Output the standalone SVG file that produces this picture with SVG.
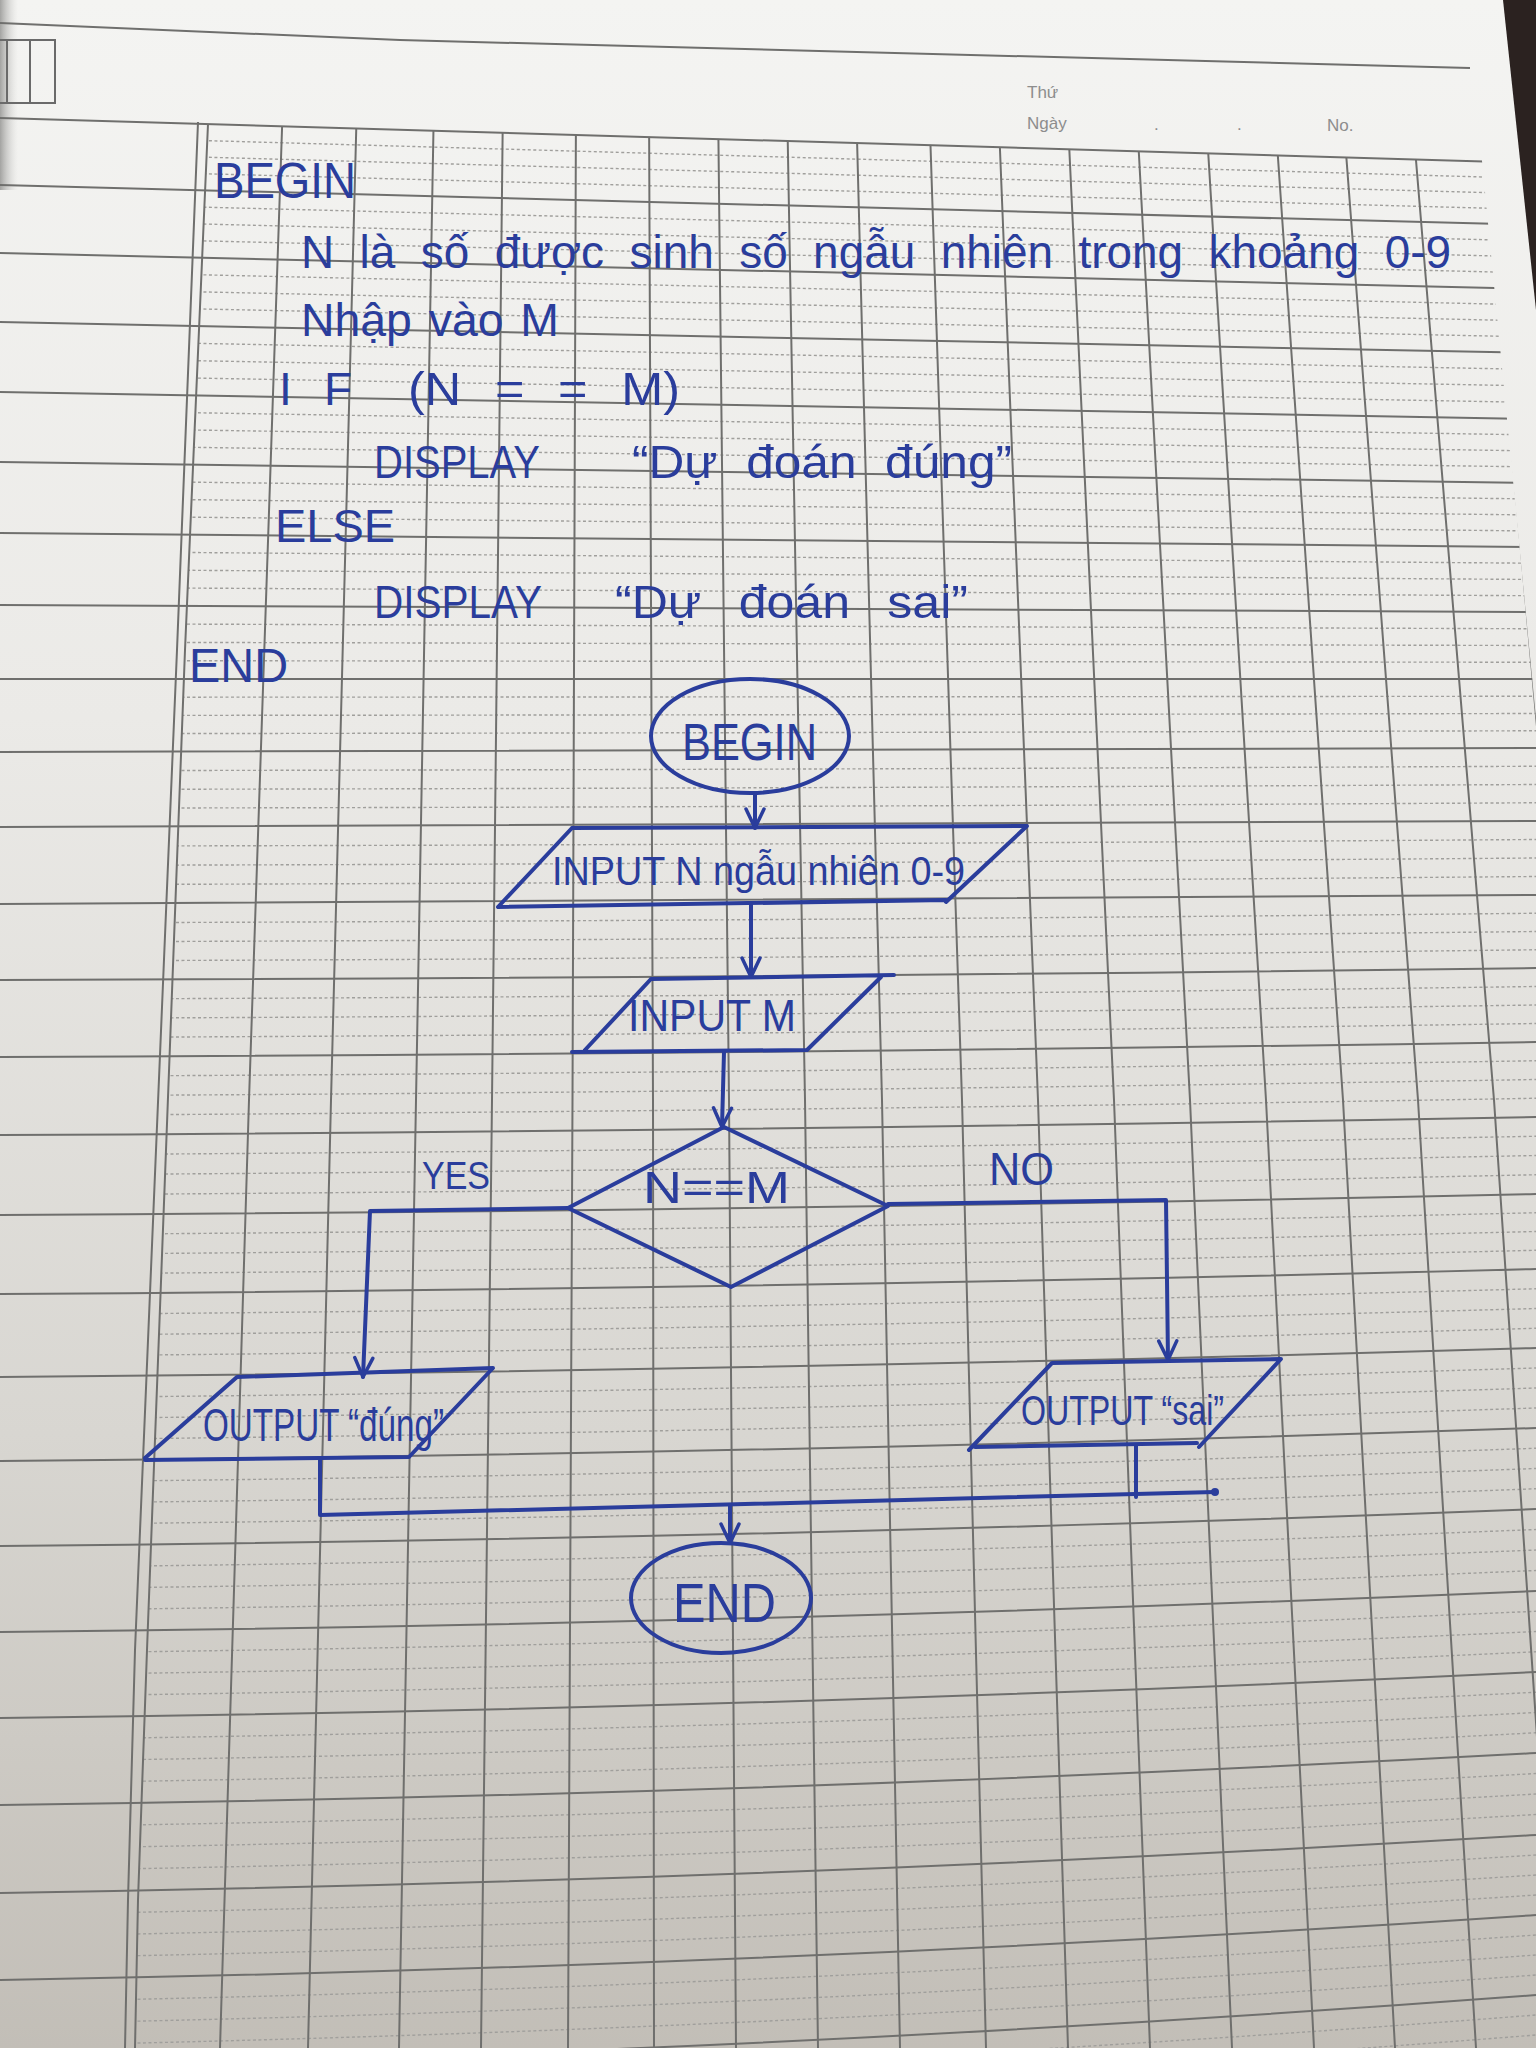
<svg xmlns="http://www.w3.org/2000/svg" width="1536" height="2048" viewBox="0 0 1536 2048">
<defs>
<style>
.ink{fill:none;stroke:#2a3d9c;stroke-width:4;stroke-linecap:round;stroke-linejoin:round}
.hw{font-family:"Liberation Sans","DejaVu Sans",Arial,sans-serif;fill:#2a3d9c}
.maj{fill:none;stroke:#6f6f6d;stroke-width:2}
.min{fill:none;stroke:#a09f9c;stroke-width:1.4;stroke-dasharray:3 2.5}
.hdr{font-family:"Liberation Sans",Arial,sans-serif;font-size:17px;fill:#8d8d8d}
</style>
<linearGradient id="paperGrad" x1="0" y1="0" x2="0" y2="1">
<stop offset="0" stop-color="#f4f4f2"/>
<stop offset="0.35" stop-color="#ebeae7"/>
<stop offset="0.7" stop-color="#d8d6d1"/>
<stop offset="1" stop-color="#c2beb7"/>
</linearGradient>
<linearGradient id="sideShade" x1="0" y1="0" x2="1" y2="0">
<stop offset="0" stop-color="#8f8f8d" stop-opacity="0.8"/>
<stop offset="1" stop-color="#d0d0ce" stop-opacity="0"/>
</linearGradient>
<clipPath id="majClip"><polygon points="0,0 1482,0 1482,161 1573,1100 1642,2048 0,2048"/></clipPath>
<clipPath id="gridClip"><polygon points="208,124 1482,161 1573,1100 1642,2048 135,2048 138,1900 147,1650 185,650"/></clipPath>
<marker id="arr" viewBox="0 0 24 24" refX="22" refY="12" markerWidth="24" markerHeight="24" markerUnits="userSpaceOnUse" orient="auto">
<path d="M3,3 L22,12 L3,21" fill="none" stroke="#2a3d9c" stroke-width="3.5" stroke-linecap="round" stroke-linejoin="round"/>
</marker>
</defs>

<g id="paper">
<rect x="0" y="0" width="1536" height="2048" fill="url(#paperGrad)"/>
<rect x="0" y="0" width="18" height="190" fill="url(#sideShade)"/>
<polygon points="1503,0 1536,0 1536,310" fill="#2b2220"/>
</g>

<g id="grid">
<path class="maj" d="M0 23 L400 40 L1470 68" stroke-width="2.5"/>
<path d="M-2 40 H55 V103 H-2 M7 40 V103 M30 40 V103" fill="none" stroke="#6a6a6a" stroke-width="2"/>
<g clip-path="url(#gridClip)">
<path class="min" d="M0 134.75 Q768 156.6 1536 178.5 M0 151.5 Q768 172.75 1536 194 M0 168.25 Q768 188.9 1536 209.5
M0 202 Q768 221.5 1536 241 M0 219 Q768 238 1536 257 M0 236 Q768 254.5 1536 273
M0 270.25 Q768 287.6 1536 305 M0 287.5 Q768 304.25 1536 321 M0 304.75 Q768 320.9 1536 337
M0 339.5 Q768 354.5 1536 369.5 M0 357 Q768 371.5 1536 386 M0 374.5 Q768 388.5 1536 402.5
M0 409.5 Q768 422.25 1536 435 M0 427 Q768 439 1536 451 M0 444.5 Q768 455.75 1536 467
M0 479.75 Q768 489.4 1536 499 M0 497.5 Q768 506.25 1536 515 M0 515.25 Q768 523.1 1536 531
M0 551 Q768 557.1 1536 563.25 M0 569 Q768 574.25 1536 579.5 M0 587 Q768 591.4 1536 595.75
M0 623.5 Q768 626.1 1536 628.75 M0 642 Q768 643.75 1536 645.5 M0 660.5 Q768 661.4 1536 662.25
M0 697.25 Q768 697 1536 696.25 M0 715.5 Q768 715 1536 713.5 M0 733.75 Q768 733 1536 730.75
M0 770.75 Q768 769.75 1536 766.25 M0 789.5 Q768 788.5 1536 784.5 M0 808.25 Q768 807.25 1536 802.75
M0 846.25 Q768 845 1536 839.5 M0 865.5 Q768 864 1536 858 M0 884.75 Q768 883 1536 876.5
M0 923 Q768 921 1536 913.25 M0 942 Q768 940 1536 931.5 M0 961 Q768 959 1536 949.75
M0 999.25 Q768 997 1536 986.5 M0 1018.5 Q768 1016 1536 1005 M0 1037.75 Q768 1035 1536 1023.5
M0 1076.5 Q768 1073.25 1536 1060.75 M0 1096 Q768 1092.5 1536 1079.5 M0 1115.5 Q768 1111.75 1536 1098.25
M0 1155 Q768 1151 1536 1136.25 M0 1175 Q768 1171 1536 1155.5 M0 1195 Q768 1191 1536 1174.75
M0 1234.75 Q768 1230.5 1536 1212.75 M0 1254.5 Q768 1250 1536 1231.5 M0 1274.25 Q768 1269.5 1536 1250.25
M0 1314.75 Q768 1309.5 1536 1288.75 M0 1335.5 Q768 1330 1536 1308.5 M0 1356.25 Q768 1350.5 1536 1328.25
M0 1398 Q768 1391.75 1536 1368 M0 1419 Q768 1412.5 1536 1388 M0 1440 Q768 1433.25 1536 1408
M0 1482.25 Q768 1475.25 1536 1448.25 M0 1503.5 Q768 1496.5 1536 1468.5 M0 1524.75 Q768 1517.75 1536 1488.75
M0 1567.5 Q768 1560.25 1536 1529.5 M0 1589 Q768 1581.5 1536 1550 M0 1610.5 Q768 1602.75 1536 1570.5
M0 1653.5 Q768 1645.25 1536 1611.25 M0 1675 Q768 1666.5 1536 1631.5 M0 1696.5 Q768 1687.75 1536 1651.75
M0 1739.75 Q768 1730.5 1536 1692.25 M0 1761.5 Q768 1752 1536 1712.5 M0 1783.25 Q768 1773.5 1536 1732.75
M0 1827 Q768 1816.5 1536 1773.5 M0 1849 Q768 1838 1536 1794 M0 1871 Q768 1859.5 1536 1814.5
M0 1914.75 Q768 1902.5 1536 1855 M0 1936.5 Q768 1924 1536 1875 M0 1958.25 Q768 1945.5 1536 1895
M0 2002 Q768 1988.5 1536 1935 M0 2024 Q768 2010 1536 1955 M0 2046 Q768 2031.5 1536 1975
M0 2090 Q768 2075 1536 2015 M0 2112 Q768 2096 1536 2035 M0 2135 Q768 2118 1536 2055"/>
<path class="maj" d="M283 100 L249 1100 L220 2048 M357 100 L331 1100 L308 2048 M434 100 L416 1100 L399 2048
M503 100 L492 1100 L481 2048 M576 100 L572.5 1100 L568 2048 M649 100 L653 1100 L654 2048
M718 100 L729 1100 L736 2048 M787 100 L805 1100 L818 2048 M856 100 L882 1100 L900 2048
M929 100 L962 1100 L986 2048 M998 100 L1038 1100 L1068 2048 M1067 100 L1114 1100 L1150 2048
M1136 100 L1190 1100 L1232 2048 M1205 100 L1266 1100 L1314 2048 M1274 100 L1343 1100 L1395 2048
M1342 100 L1418 1100 L1476 2048 M1411 100 L1494 1100 L1558 2048 M1480 100 L1571 1100 L1640 2048"/>
</g>
<g clip-path="url(#majClip)">
<path class="maj" d="M0 118 L1536 163 M0 185 L1536 225 M0 253 L1536 289 M0 322 L1536 353 M0 392 L1536 419
M0 462 L1536 483 M0 533 L1536 547 M0 605 L1536 612 M0 679 L1536 679
M0 752 Q768 751 1536 748 M0 827 Q768 826 1536 821 M0 904 Q768 902 1536 895 M0 980 Q768 978 1536 968
M0 1057 Q768 1054 1536 1042 M0 1135 Q768 1131 1536 1117 M0 1215 Q768 1211 1536 1194
M0 1294 Q768 1289 1536 1269 M0 1377 Q768 1371 1536 1348 M0 1461 Q768 1454 1536 1428
M0 1546 Q768 1539 1536 1509 M0 1632 Q768 1624 1536 1591 M0 1718 Q768 1709 1536 1672
M0 1805 Q768 1795 1536 1753 M0 1893 Q768 1881 1536 1835 M0 1980 Q768 1967 1536 1915
M0 2068 Q768 2053 1536 1995"/>
</g>
<path class="maj" d="M198 122 L177 650 L135 1650 L128 1900 L125 2048 M208 124 L185 650 L147 1650 L138 1900 L135 2048"/>
</g>

<g id="header-text">
<text class="hdr" x="1027" y="98">Thứ</text>
<text class="hdr" x="1027" y="129">Ngày</text>
<text class="hdr" x="1154" y="130">.</text>
<text class="hdr" x="1237" y="130">.</text>
<text class="hdr" x="1327" y="131">No.</text>
</g>

<g id="pseudocode">
<text class="hw" x="214" y="198" font-size="50" textLength="142" lengthAdjust="spacingAndGlyphs">BEGIN</text>
<text class="hw" x="301" y="268" font-size="47" word-spacing="13" textLength="1150" lengthAdjust="spacingAndGlyphs">N là số được sinh số ngẫu nhiên trong khoảng 0-9</text>
<text class="hw" x="301" y="336" font-size="47" word-spacing="4" textLength="258" lengthAdjust="spacingAndGlyphs">Nhập vào M</text>
<text class="hw" x="279" y="405" font-size="46" textLength="73" lengthAdjust="spacing">IF</text>
<text class="hw" x="408" y="405" font-size="46" word-spacing="18" textLength="272" lengthAdjust="spacingAndGlyphs">(N = = M)</text>
<text class="hw" x="374" y="478" font-size="46" textLength="166" lengthAdjust="spacingAndGlyphs">DISPLAY</text>
<text class="hw" x="632" y="478" font-size="47" word-spacing="14" textLength="380" lengthAdjust="spacingAndGlyphs">“Dự đoán đúng”</text>
<text class="hw" x="275" y="542" font-size="46" textLength="120" lengthAdjust="spacingAndGlyphs">ELSE</text>
<text class="hw" x="374" y="618" font-size="46" textLength="168" lengthAdjust="spacingAndGlyphs">DISPLAY</text>
<text class="hw" x="615" y="618" font-size="47" word-spacing="22" textLength="353" lengthAdjust="spacingAndGlyphs">“Dự đoán sai”</text>
<text class="hw" x="189" y="682" font-size="48" textLength="99" lengthAdjust="spacingAndGlyphs">END</text>
</g>

<g id="connectors">
<path class="ink" d="M755 793 L755 828" marker-end="url(#arr)"/>
<path class="ink" d="M751 905 L751 977" marker-end="url(#arr)"/>
<path class="ink" d="M724 1052 L722 1127" marker-end="url(#arr)"/>
<path class="ink" d="M568 1208 L370 1211 L363 1377" marker-end="url(#arr)"/>
<path class="ink" d="M888 1204 L1166 1200 L1168 1360" marker-end="url(#arr)"/>
<path class="ink" d="M320 1460 L320 1515 L1215 1492"/>
<path class="ink" d="M1136 1445 L1136 1497"/>
<circle cx="1215" cy="1492" r="4" fill="#2a3d9c"/>
<path class="ink" d="M730 1505 L730 1543" marker-end="url(#arr)"/>
<text class="hw" x="422" y="1189" font-size="38" textLength="68" lengthAdjust="spacingAndGlyphs">YES</text>
<text class="hw" x="989" y="1185" font-size="46" textLength="65" lengthAdjust="spacingAndGlyphs">NO</text>
</g>

<g id="node-begin">
<ellipse class="ink" cx="750" cy="736" rx="99" ry="57"/>
<text class="hw" x="682" y="760" font-size="52" textLength="135" lengthAdjust="spacingAndGlyphs">BEGIN</text>
</g>

<g id="node-input-n">
<path class="ink" d="M572 828 L1027 826 L946 902 M498 907 L946 900 M572 828 L498 907"/>
<text class="hw" x="552" y="885" font-size="40" textLength="413" lengthAdjust="spacingAndGlyphs">INPUT N ngẫu nhiên 0-9</text>
</g>

<g id="node-input-m">
<path class="ink" d="M651 979 L894 975 M881 977 L807 1050 M572 1052 L807 1050 M651 979 L585 1050"/>
<text class="hw" x="628" y="1031" font-size="44" textLength="168" lengthAdjust="spacingAndGlyphs">INPUT M</text>
</g>

<g id="node-decision">
<path class="ink" d="M724 1127 L888 1206 L731 1287 L568 1208 Z"/>
<text class="hw" x="643" y="1203" font-size="44" textLength="147" lengthAdjust="spacingAndGlyphs">N==M</text>
</g>

<g id="node-output-dung">
<path class="ink" d="M237 1377 L493 1368 L409 1457 M145 1460 L409 1457 M237 1377 L145 1458"/>
<text class="hw" x="203" y="1441" font-size="46" textLength="241" lengthAdjust="spacingAndGlyphs">OUTPUT “đúng”</text>
</g>

<g id="node-output-sai">
<path class="ink" d="M1052 1363 L1281 1359 L1199 1447 M975 1447 L1197 1443 M1052 1363 L969 1450"/>
<text class="hw" x="1021" y="1425" font-size="42" textLength="203" lengthAdjust="spacingAndGlyphs">OUTPUT “sai”</text>
</g>

<g id="node-end">
<ellipse class="ink" cx="721" cy="1598" rx="90" ry="55"/>
<text class="hw" x="673" y="1622" font-size="56" textLength="103" lengthAdjust="spacingAndGlyphs">END</text>
</g>
</svg>
